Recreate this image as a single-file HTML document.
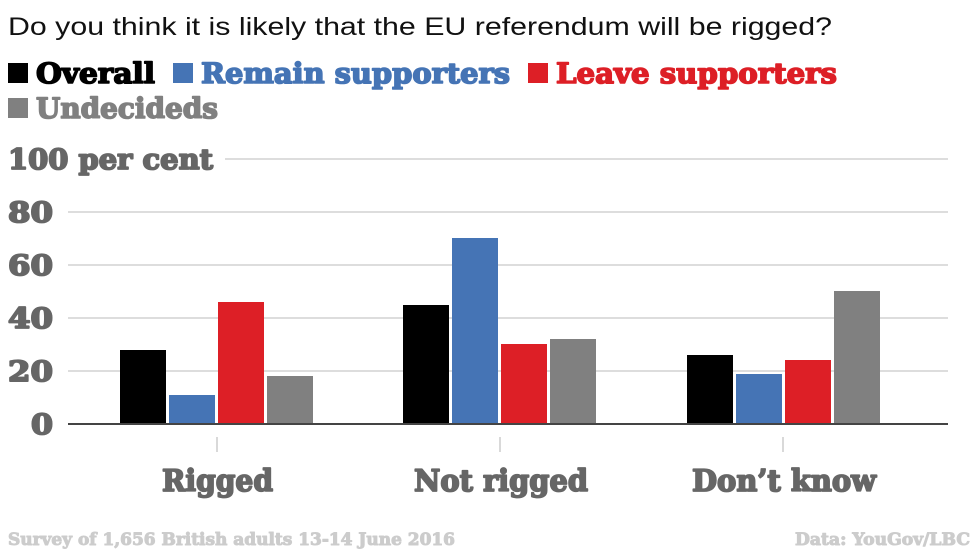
<!DOCTYPE html>
<html><head><meta charset="utf-8"><style>
html,body{margin:0;padding:0;background:#fff;}
svg{display:block;}
.s{font-family:"DejaVu Serif","Liberation Serif",serif;font-weight:bold;}
</style></head><body>
<svg width="980" height="551" viewBox="0 0 980 551" xmlns="http://www.w3.org/2000/svg">
<text x="8" y="35" font-family="Liberation Sans, DejaVu Sans, sans-serif" font-size="25" fill="#111" textLength="824" lengthAdjust="spacingAndGlyphs">Do you think it is likely that the EU referendum will be rigged?</text>
<g class="s" font-size="28" stroke-width="1.6" stroke-linejoin="round">
<rect x="8" y="63" width="20" height="20" fill="#000"/>
<text x="36" y="83" fill="#000" stroke="#000" textLength="119" lengthAdjust="spacingAndGlyphs">Overall</text>
<rect x="173" y="63" width="20" height="20" fill="#4574b5"/>
<text x="201" y="83" fill="#4574b5" stroke="#4574b5" textLength="309" lengthAdjust="spacingAndGlyphs">Remain supporters</text>
<rect x="528" y="63" width="20" height="20" fill="#dd1f26"/>
<text x="556" y="83" fill="#dd1f26" stroke="#dd1f26" textLength="281" lengthAdjust="spacingAndGlyphs">Leave supporters</text>
<rect x="8" y="98" width="20" height="20" fill="#808080"/>
<text x="36" y="118" fill="#808080" stroke="#808080" textLength="182" lengthAdjust="spacingAndGlyphs">Undecideds</text>
</g>
<g stroke="#ddd" stroke-width="2">
<line x1="225" y1="159" x2="948" y2="159"/>
<line x1="68" y1="212" x2="948" y2="212"/>
<line x1="68" y1="265" x2="948" y2="265"/>
<line x1="68" y1="318" x2="948" y2="318"/>
<line x1="68" y1="371" x2="948" y2="371"/>
</g>
<g class="s" font-size="28" fill="#666" stroke="#666" stroke-width="1.8" stroke-linejoin="round" text-anchor="end">
<text x="8" y="169" text-anchor="start" textLength="205" lengthAdjust="spacingAndGlyphs">100 per cent</text>
<text x="53" y="222" textLength="45" lengthAdjust="spacingAndGlyphs">80</text>
<text x="53" y="275" textLength="45" lengthAdjust="spacingAndGlyphs">60</text>
<text x="53" y="328" textLength="45" lengthAdjust="spacingAndGlyphs">40</text>
<text x="53" y="381" textLength="45" lengthAdjust="spacingAndGlyphs">20</text>
<text x="53" y="434" textLength="22" lengthAdjust="spacingAndGlyphs">0</text>
</g>
<g>
<rect x="120" y="350" width="46" height="74" fill="#000"/>
<rect x="169" y="395" width="46" height="29" fill="#4574b5"/>
<rect x="218" y="302" width="46" height="122" fill="#dd1f26"/>
<rect x="267" y="376" width="46" height="48" fill="#808080"/>
<rect x="403" y="305" width="46" height="119" fill="#000"/>
<rect x="452" y="238" width="46" height="186" fill="#4574b5"/>
<rect x="501" y="344" width="46" height="80" fill="#dd1f26"/>
<rect x="550" y="339" width="46" height="85" fill="#808080"/>
<rect x="687" y="355" width="46" height="69" fill="#000"/>
<rect x="736" y="374" width="46" height="50" fill="#4574b5"/>
<rect x="785" y="360" width="46" height="64" fill="#dd1f26"/>
<rect x="834" y="291" width="46" height="133" fill="#808080"/>
</g>
<line x1="68" y1="424" x2="948" y2="424" stroke="#444" stroke-width="2"/>
<g stroke="#ccc" stroke-width="1.5">
<line x1="217" y1="437" x2="217" y2="452"/>
<line x1="500" y1="437" x2="500" y2="452"/>
<line x1="783" y1="437" x2="783" y2="452"/>
</g>
<g class="s" font-size="30" fill="#666" stroke="#666" stroke-width="1.8" stroke-linejoin="round">
<text x="162" y="491" textLength="111" lengthAdjust="spacingAndGlyphs">Rigged</text>
<text x="414" y="491" textLength="174" lengthAdjust="spacingAndGlyphs">Not rigged</text>
<text x="692" y="491" textLength="184" lengthAdjust="spacingAndGlyphs">Don’t know</text>
</g>
<g class="s" font-size="17" fill="#ccc" stroke="#ccc" stroke-width="1" stroke-linejoin="round">
<text x="8" y="545" textLength="447" lengthAdjust="spacingAndGlyphs">Survey of 1,656 British adults 13-14 June 2016</text>
<text x="795" y="545" textLength="175" lengthAdjust="spacingAndGlyphs">Data: YouGov/LBC</text>
</g>
</svg>
</body></html>
